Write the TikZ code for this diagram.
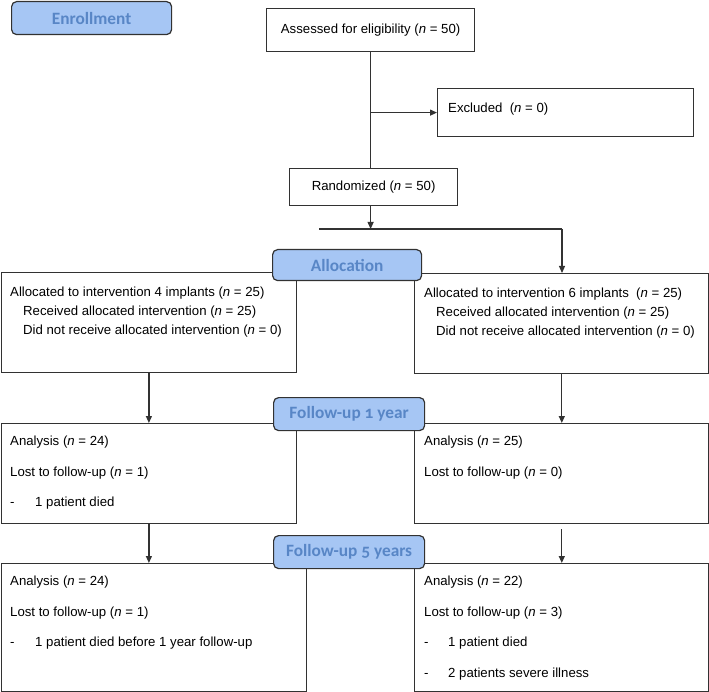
\documentclass[tikz,border=0pt]{standalone}
\usepackage{fontspec}
\setmainfont{Liberation Sans}
\newfontfamily\headfont{Carlito}[Numbers=OldStyle]
\usepackage{tikz}
\usetikzlibrary{positioning,arrows.meta}
\definecolor{headfill}{RGB}{166,198,244}
\definecolor{headtext}{RGB}{88,134,198}
\definecolor{edge}{RGB}{50,50,50}

\begin{document}
\begin{tikzpicture}[x=1pt,y=-1pt,
  box/.style={draw=edge,line width=1.2pt,anchor=north west,inner sep=0pt,font=\fontsize{13.2}{16}\selectfont},
  head/.style={draw=edge,line width=1.2pt,fill=headfill,rounded corners=5pt,anchor=north west,inner sep=0pt,
    text=headtext,font=\headfont\bfseries\fontsize{17.3}{20}\selectfont},
  txt/.style={anchor=north west,inner sep=0pt,align=left,font=\fontsize{13.2}{19}\selectfont},
  txtwide/.style={txt,font=\fontsize{13.2}{30.6}\selectfont},
  line/.style={line width=1.2pt,draw=edge},
  arr/.style={line,-{Triangle[length=7pt,width=6pt]}}]
\useasboundingbox (0,0) rectangle (709,692);

% enrollment
\node[box,minimum width=208,minimum height=43] (assess) at (266,8) {Assessed for eligibility (\textit{n} = 50)};
\node[box,minimum width=256,minimum height=48] (excl) at (437,88) {};
\node[txt] (excltxt) at (448,103) {Excluded\ \ (\textit{n} = 0)};
\node[box,minimum width=168,minimum height=37] (rand) at (289,168) {Randomized (\textit{n} = 50)};

% allocation
\node[box,minimum width=295.4,minimum height=100] (alloc4) at (0.6,272) {};
\node[txt] (alloc4txt) at (10,287) {Allocated to intervention 4 implants (\textit{n} = 25)\\
  \hspace*{13pt}Received allocated intervention (\textit{n} = 25)\\
  \hspace*{13pt}Did not receive allocated intervention (\textit{n} = 0)};
\node[box,minimum width=294.4,minimum height=100] (alloc6) at (414,273) {};
\node[txt] (alloc6txt) at (424,288) {Allocated to intervention 6 implants\ \ (\textit{n} = 25)\\
  \hspace*{12pt}Received allocated intervention (\textit{n} = 25)\\
  \hspace*{12pt}Did not receive allocated intervention (\textit{n} = 0)};

% follow-up 1 year
\node[box,minimum width=295.4,minimum height=100] (oneyr4) at (0.6,423) {};
\node[txtwide] (oneyr4txt) at (10,436) {Analysis (\textit{n} = 24)\\
  Lost to follow-up (\textit{n} = 1)\\
  \makebox[25pt][l]{-}1 patient died};
\node[box,minimum width=294.4,minimum height=100] (oneyr6) at (414,423) {};
\node[txtwide] (oneyr6txt) at (424,436) {Analysis (\textit{n} = 25)\\
  Lost to follow-up (\textit{n} = 0)};

% follow-up 5 years
\node[box,minimum width=305.4,minimum height=128.4] (fiveyr4) at (0.6,563) {};
\node[txtwide] (fiveyr4txt) at (10,576) {Analysis (\textit{n} = 24)\\
  Lost to follow-up (\textit{n} = 1)\\
  \makebox[25pt][l]{-}1 patient died before 1 year follow-up};
\node[box,minimum width=294.4,minimum height=128.4] (fiveyr6) at (414,563) {};
\node[txtwide] (fiveyr6txt) at (424,576) {Analysis (\textit{n} = 22)\\
  Lost to follow-up (\textit{n} = 3)\\
  \makebox[24pt][l]{-}1 patient died\\
  \makebox[24pt][l]{-}2 patients severe illness};

% connectors
\coordinate (splitL) at (319,229);
\coordinate (splitR) at (562,229);
\coordinate (gap6) at ([yshift=-5pt]oneyr6.south);
\draw[line] (assess.south) -- (assess.south |- rand.north);
\draw[arr] (assess.south |- excl.west) -- (excl.west);
\draw[arr] (assess.south |- rand.south) -- (assess.south |- splitL);
\draw[line] (splitL) -- (splitR);
\draw[arr] (splitR) -- (splitR |- alloc6.north);
\draw[arr] (alloc4.south) -- (alloc4.south |- oneyr4.north);
\draw[arr] (alloc6.south) -- (alloc6.south |- oneyr6.north);
\draw[arr] (oneyr4.south) -- (oneyr4.south |- fiveyr4.north);
\draw[arr] (gap6) -- (gap6 |- fiveyr6.north);

% headers
\node[head,minimum width=160,minimum height=33] (enroll) at (11,1) {Enrollment};
\node[head,minimum width=149,minimum height=31] (allochead) at (272,249) {Allocation};
\node[head,minimum width=151,minimum height=33] (oneyrhead) at (273,397) {Follow-up 1 year};
\node[head,minimum width=151,minimum height=33] (fiveyrhead) at (273,535) {Follow-up 5 years};
\end{tikzpicture}
\end{document}
